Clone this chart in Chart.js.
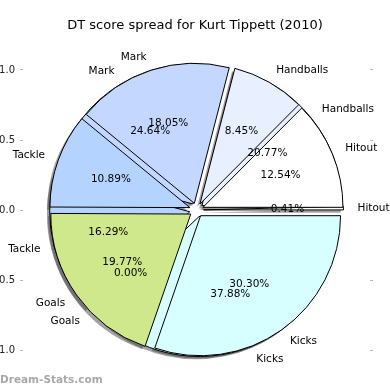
<!DOCTYPE html>
<html>
<head>
<meta charset="utf-8">
<script src="https://cdn.jsdelivr.net/npm/chart.js@4.4.1/dist/chart.umd.min.js"></script>
<style>
  html, body { margin: 0; padding: 0; background: #fff; }
  #wrap { position: relative; width: 390px; height: 390px; }
  #watermark {
    position: absolute; left: 0; top: 373px;
    font: bold 10.5px "DejaVu Sans"; line-height: 12px; color: #a8a8a8;
  }
</style>
</head>
<body>
<div id="wrap">
  <canvas id="myChart" width="390" height="390"></canvas>
  <div id="watermark">Dream-Stats.com</div>
</div>
<script>
// slice order as read counter-clockwise from 3 o'clock
const categories = ['Hitout', 'Handballs', 'Mark', 'Tackle', 'Goals', 'Kicks'];
const spreadFront = [12.54, 8.45, 18.05, 10.89, 19.77, 30.30];
const spreadBack = [0.41, 20.77, 24.64, 16.29, 0.00, 37.88];
const sliceColors = ['#ffffff', '#e8f0ff', '#c4d8ff', '#b4d4ff', '#d0e88c', '#d8ffff'];
const yTicks = [-1.0, -0.5, 0.0, 0.5, 1.0];

const explode = 0.05;   // fraction of radius
const pctDist = 0.6;
const labelDist = 1.1;
const textFont = '10.5px "DejaVu Sans"';

// chart.js runs clockwise, so feed it the slices backwards
function flip(arr) {
  return arr.slice().reverse();
}

function pieRadius(chart) {
  let y = chart.scales.y;
  return y.getPixelForValue(0) - y.getPixelForValue(1);
}

function eachArc(chart, fn) {
  chart.data.datasets.forEach((ds, i) => {
    chart.getDatasetMeta(i).data.forEach((arc, j) => fn(arc, ds, j));
  });
}

// both pies sit on top of each other, same radius, exploded slices
const overlapPies = {
  id: 'overlapPies',
  afterDatasetsUpdate(chart) {
    let R = pieRadius(chart);
    let cx = (chart.chartArea.left + chart.chartArea.right) / 2;
    let cy = chart.scales.y.getPixelForValue(0);
    eachArc(chart, arc => {
      let mid = (arc.startAngle + arc.endAngle) / 2;
      arc.x = cx + Math.cos(mid) * explode * R;
      arc.y = cy + Math.sin(mid) * explode * R;
      arc.innerRadius = 0;
      arc.outerRadius = R;
    });
  },
  beforeDatasetsDraw(chart) {
    let ctx = chart.ctx;
    let sh = 0.02 * pieRadius(chart);
    ctx.save();
    ctx.fillStyle = 'rgba(70, 70, 70, 0.5)';
    eachArc(chart, arc => {
      if (arc.endAngle - arc.startAngle <= 0) return;
      ctx.beginPath();
      ctx.moveTo(arc.x - sh, arc.y + sh);
      ctx.arc(arc.x - sh, arc.y + sh, arc.outerRadius, arc.startAngle, arc.endAngle);
      ctx.closePath();
      ctx.fill();
    });
    ctx.restore();
  },
  afterDatasetsDraw(chart) {
    let ctx = chart.ctx;
    let R = pieRadius(chart);
    ctx.save();
    ctx.font = textFont;
    ctx.fillStyle = '#000';
    ctx.textBaseline = 'middle';
    eachArc(chart, (arc, ds, j) => {
      let total = ds.data.reduce((a, b) => a + b, 0);
      let mid = (arc.startAngle + arc.endAngle) / 2;
      let c = Math.cos(mid), s = Math.sin(mid);
      ctx.textAlign = 'center';
      ctx.fillText((ds.data[j] / total * 100).toFixed(2) + '%', arc.x + c * pctDist * R, arc.y + s * pctDist * R);
      ctx.textAlign = c > 0 ? 'left' : 'right';
      ctx.fillText(chart.data.labels[j], arc.x + c * labelDist * R, arc.y + s * labelDist * R);
    });
    ctx.restore();
  }
};

function sideAxis(position, width, showLabels) {
  return {
    type: 'linear',
    position: position,
    min: -1.2,
    max: 1.2,
    afterBuildTicks: scale => { scale.ticks = yTicks.map(v => ({ value: v })); },
    afterFit: scale => { scale.width = width; },
    border: { display: false },
    grid: { drawOnChartArea: false, drawTicks: true, tickLength: 3, tickColor: '#b8b8b8' },
    ticks: {
      display: showLabels,
      padding: 5,
      color: '#222',
      font: { family: 'DejaVu Sans', size: 10 },
      callback: v => Number(v).toFixed(1)
    }
  };
}

var ctx = document.getElementById('myChart').getContext('2d');
var myChart = new Chart(ctx, {
  type: 'pie',
  data: {
    labels: flip(categories),
    datasets: [
      { label: 'front', data: flip(spreadFront), backgroundColor: flip(sliceColors) },
      { label: 'back', data: flip(spreadBack), backgroundColor: flip(sliceColors) }
    ]
  },
  options: {
    responsive: false,
    animation: false,
    events: [],
    rotation: 90,
    elements: {
      arc: { borderColor: '#000', borderWidth: 1, borderJoinStyle: 'miter' }
    },
    datasets: { pie: { clip: false } },
    layout: { padding: { bottom: 12 } },
    scales: {
      y: sideAxis('left', 23, true),
      y2: sideAxis('right', 20, false)
    },
    plugins: {
      legend: { display: false },
      tooltip: { enabled: false },
      title: {
        display: true,
        text: 'DT score spread for Kurt Tippett (2010)',
        color: '#000',
        font: { family: 'DejaVu Sans', size: 13, weight: 'normal' },
        padding: { top: 18, bottom: 8.4 }
      }
    }
  },
  plugins: [overlapPies]
});
</script>
</body>
</html>
